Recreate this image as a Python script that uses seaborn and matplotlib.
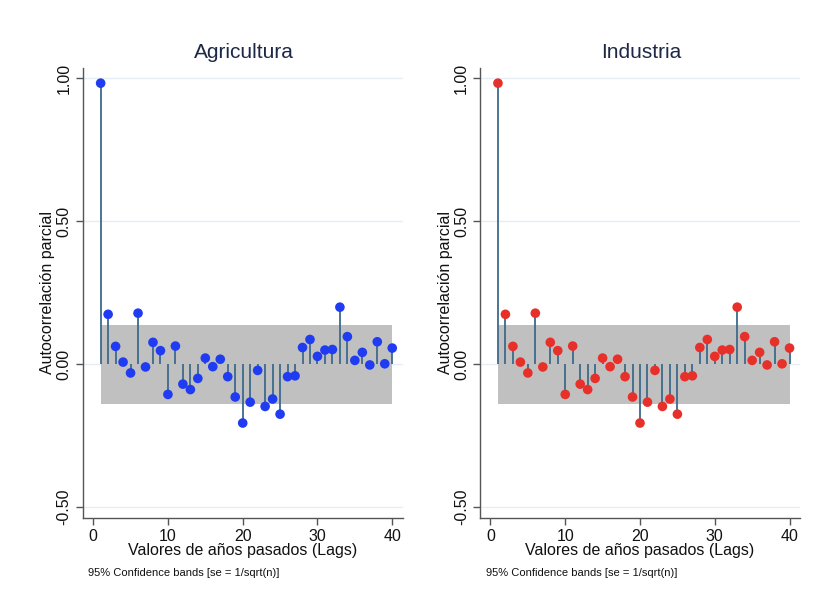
import numpy as np
import pandas as pd
import matplotlib
matplotlib.use("Agg")
import matplotlib.pyplot as plt
import seaborn as sns

lags = list(range(1, 41))
pacf = [0.982, 0.174, 0.062, 0.007, -0.031, 0.178, -0.010, 0.076, 0.047, -0.106,
        0.063, -0.070, -0.089, -0.050, 0.021, -0.009, 0.017, -0.044, -0.115, -0.206,
        -0.133, -0.022, -0.148, -0.122, -0.175, -0.044, -0.041, 0.058, 0.086, 0.027,
        0.049, 0.051, 0.199, 0.096, 0.013, 0.041, -0.003, 0.078, 0.001, 0.056]
band_se = 0.138
panels = ["Agricultura", "Industria"]
marker_colors = ["#1f3cf2", "#e8302a"]
yticks = [-0.50, 0.00, 0.50, 1.00]
xticks = [0, 10, 20, 30, 40]

df = pd.DataFrame({"lag": lags, "pacf": pacf})

sns.set_theme(style="white")
plt.rcParams["font.family"] = ["Liberation Sans", "DejaVu Sans"]

fig = plt.figure(figsize=(8.14, 6.03), dpi=100)
fig.patch.set_facecolor("white")

W, H = 814, 603
lefts = [82.7, 480.0]
ax_w = 320.0
top_px, bot_px = 68.0, 518.0

title_color = "#1c2846"
axis_color = "#555555"
stem_color = "#3d6a8c"

for i, name in enumerate(panels):
    ax = fig.add_axes([lefts[i] / W, 1 - bot_px / H, ax_w / W, (bot_px - top_px) / H])
    ax.set_xlim(-1.4, 41.4)
    ax.set_ylim(-0.538, 1.035)
    for t in yticks:
        ax.axhline(t, color="#e6edf4", lw=1.0, zorder=0)
    ax.fill_between(df["lag"], -band_se, band_se, color="#c0c0c0", lw=0, zorder=1)
    ax.vlines(df["lag"], 0, df["pacf"], color=stem_color, lw=1.3, zorder=2)
    sns.scatterplot(data=df, x="lag", y="pacf", ax=ax, color=marker_colors[i],
                    s=48, edgecolor="none", zorder=3, legend=False)
    ax.set_xticks(xticks)
    ax.set_yticks(yticks)
    ax.set_yticklabels([f"{v:.2f}" for v in yticks], rotation=90, va="center")
    ax.tick_params(axis="both", direction="out", length=5, width=1, color=axis_color,
                   labelsize=11.5, labelcolor="#111111", pad=3, left=True, bottom=True)
    for s in ["top", "right"]:
        ax.spines[s].set_visible(False)
    for s in ["left", "bottom"]:
        ax.spines[s].set_color(axis_color)
        ax.spines[s].set_linewidth(1.0)
    ax.set_xlabel("Valores de años pasados (Lags)", fontsize=11.5, color="#111111")
    ax.set_ylabel("Autocorrelación parcial", fontsize=11.5, color="#111111")
    ax.xaxis.set_label_coords(0.5, (bot_px - 551) / (bot_px - top_px))
    ax.yaxis.set_label_coords((48 - 82.7) / ax_w, 0.5)
    ax.xaxis.label.set_va("center")
    ax.yaxis.label.set_va("center")
    ax.text(0.505, (bot_px - 52) / (bot_px - top_px), name, transform=ax.transAxes,
            ha="center", va="center", fontsize=15, color=title_color)
    fig.text((lefts[i] + 5.5) / W, 1 - 573 / H, "95% Confidence bands [se = 1/sqrt(n)]",
             ha="left", va="center", fontsize=8, color="#111111")

fig.savefig("out.png", dpi=100, facecolor="white")
